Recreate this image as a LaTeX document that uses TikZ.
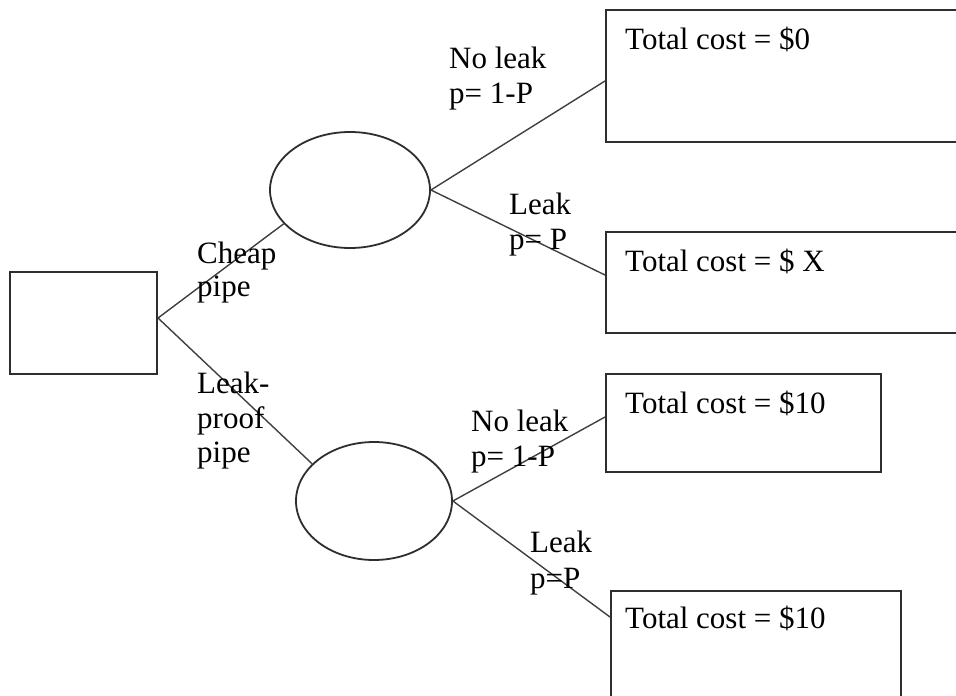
\documentclass[tikz,border=0pt]{standalone}
\usepackage{fontspec}
\setmainfont{Liberation Serif}
\usetikzlibrary{shapes.geometric}
\definecolor{edge}{HTML}{2E2E2E}
\definecolor{conn}{HTML}{404040}
\begin{document}
\begin{tikzpicture}[x=1pt,y=-1pt,
  boxnode/.style={draw=edge,line width=2pt,rectangle,inner sep=0pt},
  chance/.style={draw=edge,line width=1.8pt,ellipse,inner sep=0pt},
  lbl/.style={anchor=base west,inner sep=0pt,font=\fontsize{31}{35}\selectfont,text=black},
  conline/.style={draw=conn,line width=1.4pt}]
\clip (0,0) rectangle (956,696);
\fill[white] (0,0) rectangle (956,696);
% decision box
\node[boxnode,minimum width=147pt,minimum height=102pt] (dec) at (83.5,323) {};
% chance nodes
\node[chance,minimum width=160pt,minimum height=116pt] (ch1) at (350,190) {};
\node[chance,minimum width=156pt,minimum height=118pt] (ch2) at (374,501) {};
% outcome boxes
\node[boxnode,minimum width=364pt,minimum height=132pt] (b1) at (788,76) {};
\node[boxnode,minimum width=364pt,minimum height=101pt] (b2) at (788,282.5) {};
\node[boxnode,minimum width=275pt,minimum height=98pt] (b3) at (743.5,423) {};
\node[boxnode,minimum width=290pt,minimum height=129pt] (b4) at (756,655.5) {};
% connectors
\draw[conline] ([yshift=5pt]dec.east) -- (ch1.207.6);
\draw[conline] ([yshift=5pt]dec.east) -- (ch2.149.3);
\draw[conline] (ch1.east) -- ([yshift=-5pt]b1.west);
\draw[conline] (ch1.east) -- ([yshift=7.5pt]b2.west);
\draw[conline] (ch2.east) -- ([yshift=6pt]b3.west);
\draw[conline] (ch2.east) -- ([yshift=-27pt]b4.north west);
% box texts
\node[lbl] (t1) at (625,49) {Total cost = \$0};
\node[lbl] (t2) at (625,271) {Total cost = \$ X};
\node[lbl] (t3) at (625,413) {Total cost = \$10};
\node[lbl] (t4) at (625,628) {Total cost = \$10};
% branch labels
\node[lbl] (nl1a) at (449,68) {No leak};
\node[lbl] (nl1b) at (449,103) {p= 1-P};
\node[lbl] (lk1a) at (509,214) {Leak};
\node[lbl] (lk1b) at (509,249) {p= P};
\node[lbl] (nl2a) at (471,431) {No leak};
\node[lbl] (nl2b) at (471,466) {p= 1-P};
\node[lbl] (lk2a) at (530,552) {Leak};
\node[lbl] (lk2b) at (530,588) {p=P};
\node[lbl] (cpa) at (197,263) {Cheap};
\node[lbl] (cpb) at (197,296) {pipe};
\node[lbl] (lpa) at (197,393) {Leak-};
\node[lbl] (lpb) at (197,428) {proof};
\node[lbl] (lpc) at (197,462) {pipe};
\end{tikzpicture}
\end{document}
